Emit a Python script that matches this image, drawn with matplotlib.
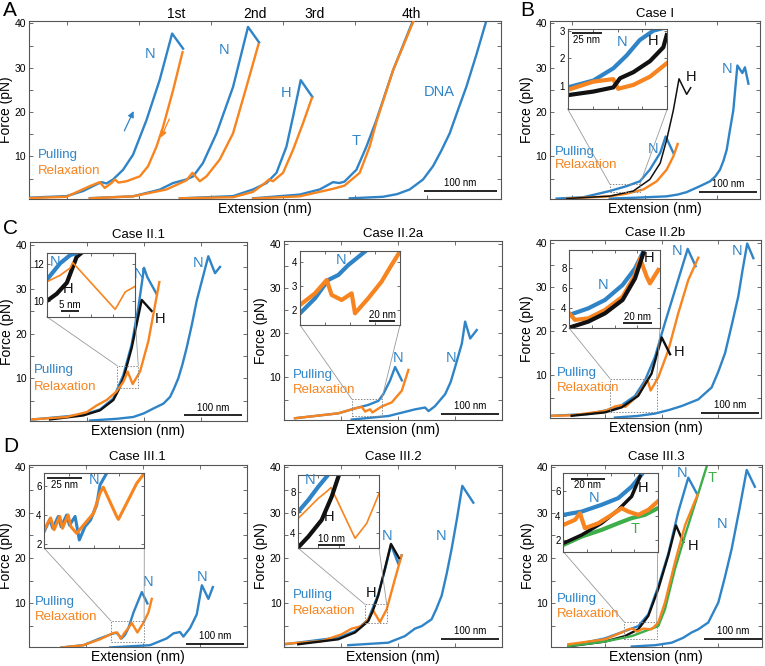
import matplotlib
matplotlib.use("Agg")
import matplotlib.pyplot as plt
from matplotlib.patches import Rectangle, ConnectionPatch

plt.rcParams['font.family'] = ['Liberation Sans', 'DejaVu Sans']

BLUE = '#2f84c7'
ORANGE = '#f7841e'
GREEN = '#3dae49'
BLACK = '#111111'

# ---------------- data (x in nm, y in pN) ----------------
# Panel A
A_pull1_x = [-52, 0, 23, 41.5, 48.5, 55.4, 64.5, 78.4, 92.2, 110.8, 129, 146.3, 161.5]
A_pull1_y = [0.7, 1.05, 2.2, 3.7, 4.2, 3.9, 4.8, 7.0, 10.4, 18.2, 27.2, 37.7, 34.3]
A_relax1_x = [-52, 0, 32.3, 46, 53, 62.3, 67, 72, 83, 101.5, 113, 124.6, 133.8, 147.6, 160.7]
A_relax1_y = [0.6, 0.9, 3.3, 4.2, 2.9, 4.0, 4.8, 4.1, 4.4, 5.5, 7.8, 12.2, 16.7, 24.9, 33.5]
A_pull2_x = [32.3, 92, 129, 147.6, 166, 175.4, 189, 207.8, 230.8, 251.5, 266.8]
A_pull2_y = [0.6, 1.0, 2.5, 4.0, 4.8, 5.5, 8.5, 15.2, 25.7, 39.2, 35.7]
A_relax2_x = [32.3, 92, 138.5, 166, 174.5, 184.6, 193.9, 212.3, 230.7, 249.3, 266]
A_relax2_y = [0.55, 1.0, 2.55, 4.6, 6.3, 4.4, 5.5, 9.3, 15.2, 25.7, 35.3]
A_pull3_x = [157, 230.8, 258.4, 277, 290.9, 304.7, 313.9, 324.5, 340.7]
A_pull3_y = [0.55, 1.05, 2.55, 4.0, 6.3, 12.2, 19, 27.2, 23.4]
A_relax3_x = [157, 230.8, 258.4, 275, 280.6, 286, 300, 313.9, 327.7, 340]
A_relax3_y = [0.55, 0.8, 2.0, 4.0, 4.8, 4.4, 6.3, 11.5, 17.5, 23.2]
A_pull4_x = [258.5, 323, 350.8, 369.3, 378, 385, 401.7, 415.5, 429.4, 452.4, 480]
A_pull4_y = [0.55, 1.4, 2.55, 4.2, 4.0, 4.3, 7.0, 12.2, 18.2, 29.4, 40.6]
A_relax4_x = [258.5, 323, 369.3, 385, 406.2, 420, 429.4, 452.4, 481]
A_relax4_y = [0.5, 1.0, 2.7, 3.4, 6.3, 12.2, 17.8, 29.4, 40.6]
A_dna_x = [392.4, 438.5, 458, 475.5, 494, 507.8, 519, 530.9, 542, 554, 568, 581.7]
A_dna_y = [0.55, 0.9, 1.5, 2.55, 4.8, 7.8, 11.2, 15.2, 20.3, 25.7, 33, 40.6]
A_cycle_labels = ['1st', '2nd', '3rd', '4th']
A_cycle_x = [152.4, 260.8, 343.9, 477.8]

# Panel B (Case I)
B_pull1_x = [11.5, 57.5, 103, 132, 155, 172, 190, 199.4, 212.6]
B_pull1_y = [0.5, 0.8, 2.2, 3.3, 4.4, 7.0, 10.8, 14.5, 10.8]
B_relax_x = [28.8, 103, 132, 161, 184, 201, 212.6, 220.1]
B_relax_y = [0.5, 1.0, 1.6, 2.55, 4.4, 7.0, 10.0, 12.8]
B_H_x = [28.8, 103, 143.6, 172, 190, 201, 212.6, 222.4, 235.6, 242.5]
B_H_y = [0.5, 1.05, 2.2, 4.8, 8.5, 13.7, 20.4, 27.5, 24, 25.5]
B_pull2_x = [103, 150, 201, 220, 235.6, 258.6, 276, 285, 293, 299, 304.6, 310, 316, 323, 331.6, 336, 342]
B_pull2_y = [0.5, 0.7, 1.0, 1.4, 1.95, 3.3, 4.4, 5.5, 7.0, 9.0, 11.5, 15.8, 20.4, 30.5, 28.8, 30.1, 26.4]
B_in_blue_x = [0, 21.4, 38, 49, 60, 71.4, 80]
B_in_blue_y = [0.95, 1.2, 1.64, 2.1, 2.66, 3.0, 3.1]
B_in_orange_x = [0, 21.4, 38, 42, 54.7, 68.6, 82.5]
B_in_orange_y = [0.86, 1.16, 1.25, 0.9, 1.04, 1.34, 1.82]
B_in_black_x = [0, 21.4, 38, 43.6, 54.7, 68.6, 79.7, 82.5]
B_in_black_y = [0.67, 0.8, 0.95, 1.28, 1.5, 1.9, 2.4, 2.84]

# Panel C1 (Case II.1)
C1_blue1_x = [5.7, 92, 120.7, 143.6, 161, 175.3, 186.8, 196.6, 202.3, 218.4]
C1_blue1_y = [0.75, 1.8, 3.0, 5.45, 10.75, 17.6, 25.9, 34.8, 32.7, 28.9]
C1_orange_x = [3, 63, 98, 115, 132, 149, 161, 168.4, 177, 189.7, 204, 223]
C1_orange_y = [0.75, 1.3, 2.4, 3.9, 5.1, 7.0, 9.2, 11.5, 8.7, 11.5, 18.3, 31.6]
C1_H_x = [34.5, 92, 120.7, 143.6, 152, 161, 175.3, 192.6, 209.8]
C1_H_y = [0.75, 1.65, 2.8, 5.1, 7.2, 10, 16.8, 27.6, 25.1]
C1_blue2_x = [103.4, 150, 178, 196, 212.6, 230, 241.4, 248, 255.7, 263, 270, 279, 287.4, 307.4, 319, 327.6]
C1_blue2_y = [0.5, 0.9, 1.3, 2.1, 3.2, 4.3, 5.8, 7.6, 10, 13.2, 16.8, 22, 27.4, 37.4, 33.6, 35]
C1_in_black_x = [0, 2.8, 5.6, 8.3, 9.5]
C1_in_black_y = [10.0, 10.4, 11.0, 12.4, 12.6]
C1_in_blue_x = [0, 3.7, 6.5, 8]
C1_in_blue_y = [11.15, 12.05, 12.5, 12.6]
C1_in_orange_x = [0, 3.7, 6.5, 7.2, 19, 21.8, 24.5]
C1_in_orange_y = [11.05, 11.4, 11.8, 12.1, 9.55, 10.5, 10.8]

# Panel C2 (Case II.2a)
C2_blue1_x = [19, 93.7, 122.4, 145.4, 162.6, 171, 182.8, 191.4, 203]
C2_blue1_y = [0.8, 1.9, 3.0, 3.8, 4.7, 6.2, 9.3, 12.3, 9.3]
C2_orange_x = [19, 93.7, 122.4, 134, 139.7, 148.3, 152.3, 168.4, 185.6, 203, 214.3]
C2_orange_y = [0.8, 1.9, 3.0, 3.35, 2.3, 2.8, 2.1, 3.45, 4.35, 7.0, 11.65]
C2_blue2_x = [116.7, 180, 226, 243, 249, 260, 277.6, 287, 294.8, 306.4, 312, 320.7, 332]
C2_blue2_y = [0.5, 1.3, 2.8, 3.2, 2.4, 3.5, 6.2, 8.9, 12.3, 17.6, 22.5, 18.7, 20.6]
C2_in_blue_x = [0, 11.7, 22, 29.9, 37.7, 50.6]
C2_in_blue_y = [1.86, 2.49, 3.26, 3.47, 3.89, 4.45]
C2_in_orange_x = [0, 11.7, 20.8, 24.7, 32.5, 40.3, 42.9, 53.2, 63.6, 71.4, 77.9]
C2_in_orange_y = [2.21, 2.7, 3.26, 2.63, 2.42, 2.7, 1.86, 2.49, 3.19, 3.89, 4.45]

# Panel C3 (Case II.2b)
C3_blue1_x = [3, 66, 106, 123.6, 146.6, 163.8, 181, 198, 221, 237.4, 251]
C3_blue1_y = [0.9, 1.3, 2.4, 3.3, 5.4, 8.9, 14.2, 21.8, 31.6, 38.6, 34.7]
C3_orange_x = [3, 37.4, 94.8, 112, 123.6, 130, 152, 167.8, 173.6, 186.8, 204, 221, 238.5, 255.7]
C3_orange_y = [0.9, 1.0, 2.0, 3.0, 3.3, 2.9, 5.6, 9.1, 6.6, 9.6, 15.7, 24, 31.6, 36.6]
C3_H_x = [37.4, 94.8, 123.6, 152, 175, 192.6, 207]
C3_H_y = [0.9, 1.66, 2.8, 5.4, 10.4, 18.6, 14.8]
C3_blue2_x = [112, 150, 181, 205, 227, 255.7, 278.7, 290, 301.7, 313, 324.7, 332, 340, 350.6]
C3_blue2_y = [0.5, 0.85, 1.4, 2.2, 3.1, 4.6, 7.3, 10.8, 15, 21.2, 27.9, 33.8, 39.8, 36.5]
C3_in_blue_x = [0, 13.4, 25.2, 37.6, 46.4, 52.2]
C3_in_blue_y = [3.27, 3.93, 4.77, 6.27, 7.93, 9.6]
C3_in_orange_x = [0, 4, 13.4, 25.2, 37.6, 46.4, 49.9, 54.6, 56.9, 62.8]
C3_in_orange_y = [3.43, 2.77, 2.93, 3.77, 5.1, 7.27, 8.93, 7.1, 6.43, 7.77]
C3_in_black_x = [0, 13.4, 25.2, 37.6, 46.4, 52.2]
C3_in_black_y = [2.0, 2.6, 3.43, 4.77, 6.93, 9.43]

# Panel D1 (Case III.1)
D1_blue1_x = [56.3, 93.7, 122.4, 145.4, 151, 159.8, 165.5, 171.3, 180, 194.3, 204]
D1_blue1_y = [0.3, 0.8, 2.3, 3.4, 3.5, 2.3, 3.1, 4.6, 8.0, 12.5, 10]
D1_orange_x = [56.3, 93.7, 122.4, 145.4, 152, 158, 163.8, 171.3, 177, 186.7, 197, 205.7, 211.5]
D1_orange_y = [0.3, 0.8, 2.1, 3.5, 3.6, 2.2, 3.4, 4.6, 5.7, 3.6, 5.7, 8.0, 11]
D1_blue2_x = [139.7, 208.6, 237.4, 248.8, 260, 266, 277.6, 289, 297.8, 309, 316.7]
D1_blue2_y = [0.3, 0.8, 2.3, 3.4, 3.7, 2.7, 4.6, 7.6, 14, 11, 13.6]
D1_in_blue_x = [0, 4, 6, 10, 12, 16, 18, 22, 25, 29, 33, 37.4, 39.8, 44.5]
D1_in_blue_y = [2.9, 3.7, 3.1, 3.9, 3.2, 4.0, 3.3, 3.9, 2.3, 3.2, 3.66, 4.68, 6.05, 6.84]
D1_in_orange_x = [0, 4.5, 7, 11, 13, 17, 19, 23.1, 27.9, 35, 39.8, 42.1, 51.7, 52.9, 58.8, 66, 71.4]
D1_in_orange_y = [3.0, 3.8, 3.0, 3.9, 3.1, 4.0, 3.2, 2.75, 3.3, 4.1, 5.5, 5.9, 3.9, 3.7, 4.8, 6.16, 6.84]

# Panel D2 (Case III.2)
D2_blue1_x = [1.2, 93.6, 122.4, 144.8, 162, 174.8, 184, 196.7, 202.4]
D2_blue1_y = [1.0, 2.5, 3.9, 6.5, 12, 18, 22.9, 18.7, 20.6]
D2_orange_x = [1.2, 64.5, 99, 116.2, 133.4, 144.8, 153.4, 165, 176.6, 190.9, 202.4]
D2_orange_y = [1.1, 1.7, 3.2, 4.45, 5.0, 6.5, 8.4, 5.9, 8.7, 15.4, 20.6]
D2_H_x = [24, 93, 121.9, 144.8, 153, 162, 173.4, 184, 197.8]
D2_H_y = [1.0, 2.1, 3.6, 6.1, 8.5, 11.7, 17.6, 23.1, 20]
D2_blue2_x = [110.3, 179.3, 208, 225.3, 237, 254, 262, 271.4, 280, 288.6, 298, 307, 326]
D2_blue2_y = [0.8, 1.35, 2.8, 4.45, 5.0, 6.5, 8.7, 11.7, 16.5, 22, 28.8, 35.9, 32.2]
D2_in_blue_x = [0, 3.75, 7.5, 10.6]
D2_in_blue_y = [6.08, 7.2, 8.48, 9.44]
D2_in_orange_x = [0, 3.75, 7.5, 10.6, 12.25, 21.25, 25.6, 30.25]
D2_in_orange_y = [5.44, 6.4, 7.36, 8.0, 8.4, 3.52, 4.96, 7.84]
D2_in_black_x = [0, 3.75, 8.75, 12.5, 15]
D2_in_black_y = [2.66, 3.68, 5.28, 7.52, 9.44]

# Panel D3 (Case III.3)
D3_blue1_x = [30.3, 93.6, 128, 151, 168.3, 185.5, 202.8, 220, 237.2, 252.8]
D3_blue1_y = [0.6, 2.3, 3.9, 5.0, 7.6, 13.8, 21, 30.2, 37.7, 34]
D3_green_x = [30.3, 93.6, 139.7, 162.6, 185.5, 197, 214.3, 231.6, 251.7, 271.7]
D3_green_y = [0.6, 1.6, 2.8, 3.9, 5.0, 8.7, 17.6, 25, 33.1, 41.3]
D3_orange_x = [30.3, 93.6, 122.4, 133.8, 140.7, 148.3, 159.7, 174, 185.5, 197, 214.3, 231.6, 253.4]
D3_orange_y = [1.0, 2.1, 3.6, 4.3, 4.45, 3.8, 4.45, 4.3, 5.8, 10.2, 19.1, 27.2, 34]
D3_H_x = [34, 93.6, 128, 151, 168.3, 185.5, 202.8, 216, 228.6]
D3_H_y = [0.6, 1.6, 2.8, 4.3, 7.25, 13.2, 20.6, 27.2, 23.5]
D3_blue2_x = [139.7, 180, 208.6, 228, 243, 254.5, 271.7, 289, 300, 312, 325, 338, 352]
D3_blue2_y = [0.5, 0.8, 1.35, 2.4, 3.6, 4.3, 5.8, 10.2, 15.6, 22, 30.5, 39.4, 35.7]
D3_in_blue_x = [0, 10.7, 22.3, 32, 39.8, 45.6]
D3_in_blue_y = [4.07, 4.34, 4.9, 5.45, 6.4, 7.4]
D3_in_orange_x = [0, 6.8, 9.7, 12.6, 20.4, 28.2, 34, 37.9, 43.7, 49.5, 55]
D3_in_orange_y = [3.24, 3.66, 4.2, 2.97, 3.38, 4.07, 4.62, 4.34, 4.07, 4.48, 5.17]
D3_in_green_x = [0, 10.7, 22.3, 32, 39.8, 47.6, 55]
D3_in_green_y = [1.59, 2.28, 2.83, 3.38, 3.8, 4.07, 4.62]
D3_in_black_x = [0, 10.7, 22.3, 32, 39.8, 44.7]
D3_in_black_y = [1.72, 2.41, 3.38, 4.48, 5.59, 7.24]

# ---------------- figure ----------------
W, H = 765, 666
fig = plt.figure(figsize=(7.65, 6.66), dpi=100)

LAB_FS = 9.5   # Pulling / Relaxation
MARK_FS = 10.5  # N / H / T labels


def rect(l, r, t, b):
    return [l / W, 1 - b / H, (r - l) / W, (b - t) / H]


def style(ax, xticks, yticks, ylabels, fs=7.5, inset=False):
    for s in ax.spines.values():
        s.set_color('#555555')
        s.set_linewidth(0.8)
    ax.set_xticks(xticks)
    ax.set_xticklabels([])
    ax.set_yticks(yticks)
    ax.set_yticklabels(ylabels)
    ax.tick_params(direction='in', top=True, right=True, length=3 if not inset else 2.5,
                   width=0.6, color='#555555', labelsize=fs, pad=2)


def main_axes(pos, xlim, title=None, xticks=None):
    ax = fig.add_axes(pos)
    ax.set_xlim(*xlim)
    ax.set_ylim(0.4, 40.6)
    style(ax, xticks, [5, 10, 15, 20, 25, 30, 35, 40],
          ['', '10', '', '20', '', '30', '', '40'])
    wpx = pos[2] * W
    hpx = pos[3] * H
    ax.set_ylabel('Force (pN)', fontsize=10)
    ax.yaxis.set_label_coords(-16 / wpx, 0.5)
    ax.set_xlabel('Extension (nm)', fontsize=10)
    ax.xaxis.set_label_coords(0.5, -3 / hpx)
    if title:
        ax.set_title(title, fontsize=9.5, pad=3)
    return ax


def tr(ax, x, y, c, lw=1.7, z=2):
    ax.plot(x, y, color=c, lw=lw, zorder=z, solid_joinstyle='round')


def lab(ax, x, y, s, c, fs=MARK_FS, ha='center'):
    ax.text(x, y, s, color=c, fontsize=fs, ha=ha, va='center', zorder=6)


def legend(ax, x, y1, y2):
    ax.text(x, y1, 'Pulling', color=BLUE, fontsize=LAB_FS, ha='left', va='center')
    ax.text(x, y2, 'Relaxation', color=ORANGE, fontsize=LAB_FS, ha='left', va='center')


def scalebar(ax, x0, y, length=100, txt='100 nm', below=False, fs=7, dy=1.3):
    ax.plot([x0, x0 + length], [y, y], color='k', lw=1.2, zorder=6, solid_capstyle='butt')
    ty = y - dy if below else y + dy
    ax.text(x0 + length / 2, ty, txt, fontsize=fs, ha='center',
            va='top' if below else 'bottom', zorder=6)


def inset(pos, xlim, ylim, yticks, parent, box):
    ia = fig.add_axes(pos)
    ia.set_xlim(*xlim)
    ia.set_ylim(*ylim)
    w = xlim[1] - xlim[0]
    style(ia, [xlim[0] + w * f for f in (0.25, 0.5, 0.75)], yticks,
          [str(v) for v in yticks], fs=7, inset=True)
    ia.set_zorder(5)
    ia.patch.set_facecolor('white')
    x0, x1, y0, y1 = box
    parent.add_patch(Rectangle((x0, y0), x1 - x0, y1 - y0, fill=False, ls=(0, (1.5, 1.5)),
                               ec='#888888', lw=0.7, zorder=5))
    for (ax_f, px) in (((0, 0), x0), ((1, 0), x1)):
        cp = ConnectionPatch(xyA=ax_f, coordsA=ia.transAxes, xyB=(px, y1),
                             coordsB=parent.transData, color='#999999', lw=0.6)
        fig.add_artist(cp)
    return ia


# ----- Panel A -----
axA = main_axes(rect(29, 501, 20.7, 199), (-52, 602), xticks=[0, 100, 200, 300, 400, 500])
for x, y in ((A_pull1_x, A_pull1_y), (A_pull2_x, A_pull2_y), (A_pull3_x, A_pull3_y),
             (A_pull4_x, A_pull4_y), (A_dna_x, A_dna_y)):
    tr(axA, x, y, BLUE)
for x, y in ((A_relax1_x, A_relax1_y), (A_relax2_x, A_relax2_y), (A_relax3_x, A_relax3_y),
             (A_relax4_x, A_relax4_y)):
    tr(axA, x, y, ORANGE, z=3)
for s, x in zip(A_cycle_labels, A_cycle_x):
    axA.text(x, 42.0, s, fontsize=10, ha='center', va='center', clip_on=False)
lab(axA, 115.5, 33.1, 'N', BLUE)
lab(axA, 217.9, 33.9, 'N', BLUE)
lab(axA, 303.7, 24.3, 'H', BLUE)
lab(axA, 401.7, 13.4, 'T', BLUE)
lab(axA, 517, 24.5, 'DNA', BLUE)
legend(axA, -40, 10.4, 6.8)
axA.annotate('', xy=(94.6, 20.8), xytext=(78.4, 15.2),
             arrowprops=dict(arrowstyle='-|>', color=BLUE, lw=0.9, mutation_scale=9))
axA.annotate('', xy=(129.2, 13.7), xytext=(144, 19),
             arrowprops=dict(arrowstyle='-|>', color=ORANGE, lw=0.9, mutation_scale=9))
scalebar(axA, 496, 2.3, dy=0.6)

# ----- Panel B -----
axB = main_axes(rect(550, 760, 20.7, 199), (0, 362), 'Case I', xticks=[38.4, 162.9, 287.4])
tr(axB, B_pull1_x, B_pull1_y, BLUE)
tr(axB, B_pull2_x, B_pull2_y, BLUE)
tr(axB, B_relax_x, B_relax_y, ORANGE)
tr(axB, B_H_x, B_H_y, BLACK, lw=1.1)
lab(axB, 244, 27.8, 'H', BLACK)
lab(axB, 178, 11.7, 'N', BLUE)
lab(axB, 306, 29.8, 'N', BLUE)
legend(axB, 8, 11.1, 8.0)
scalebar(axB, 257, 1.95, dy=0.6)
iB = inset(rect(567.7, 667.3, 29.3, 109), (0, 83), (0.17, 3.05), [1, 2, 3], axB,
           (103.4, 155, 1.95, 3.7))
tr(iB, B_in_blue_x, B_in_blue_y, BLUE, lw=3)
tr(iB, B_in_orange_x, B_in_orange_y, ORANGE, lw=3)
tr(iB, B_in_black_x, B_in_black_y, BLACK, lw=3)
lab(iB, 45, 2.6, 'N', BLUE)
lab(iB, 71.4, 2.62, 'H', BLACK)
scalebar(iB, 3.3, 2.9, length=25, txt='25 nm', below=True, fs=7, dy=0.06)

# ----- Panel C1 -----
xt = [98, 196, 294]
axC1 = main_axes(rect(30, 246.7, 242, 421), (0, 373.6), 'Case II.1', xticks=xt)
tr(axC1, C1_blue1_x, C1_blue1_y, BLUE)
tr(axC1, C1_blue2_x, C1_blue2_y, BLUE)
tr(axC1, C1_H_x, C1_H_y, BLACK)
tr(axC1, C1_orange_x, C1_orange_y, ORANGE)
lab(axC1, 188.5, 33.5, 'N', BLUE)
lab(axC1, 290, 35.9, 'N', BLUE)
lab(axC1, 224, 23.2, 'H', BLACK)
legend(axC1, 7, 11.9, 8.0)
scalebar(axC1, 266, 1.65, dy=0.6)
iC1 = inset(rect(46.7, 135, 253.3, 316.7), (0, 24.5), (9.15, 12.6), [10, 12], axC1,
            (150.5, 186.7, 7.7, 12.8))
tr(iC1, C1_in_black_x, C1_in_black_y, BLACK, lw=3)
tr(iC1, C1_in_blue_x, C1_in_blue_y, BLUE, lw=3)
tr(iC1, C1_in_orange_x, C1_in_orange_y, ORANGE, lw=1.2)
lab(iC1, 2.3, 12.1, 'N', BLUE)
lab(iC1, 5.8, 10.65, 'H', BLACK)
scalebar(iC1, 4, 9.45, length=5, txt='5 nm', fs=7, dy=0.08)

# ----- Panel C2 -----
axC2 = main_axes(rect(284, 501.7, 241, 420), (0, 375), 'Case II.2a', xticks=xt)
tr(axC2, C2_blue1_x, C2_blue1_y, BLUE)
tr(axC2, C2_blue2_x, C2_blue2_y, BLUE)
tr(axC2, C2_orange_x, C2_orange_y, ORANGE)
lab(axC2, 196, 14.4, 'N', BLUE)
lab(axC2, 288, 14.4, 'N', BLUE)
legend(axC2, 15, 10.6, 7.2)
scalebar(axC2, 270, 1.85, dy=0.6)
iC2 = inset(rect(300, 400, 250.7, 325), (0, 78), (1.37, 4.49), [2, 3, 4], axC2,
            (116.7, 168.4, 1.3, 5.1))
tr(iC2, C2_in_blue_x, C2_in_blue_y, BLUE, lw=3)
tr(iC2, C2_in_orange_x, C2_in_orange_y, ORANGE, lw=3)
lab(iC2, 32, 4.1, 'N', BLUE)
scalebar(iC2, 54, 1.52, length=20, txt='20 nm', fs=7, dy=0.06)

# ----- Panel C3 -----
axC3 = main_axes(rect(550, 761, 240, 418), (0, 363.8), 'Case II.2b', xticks=[95, 192.6, 290])
tr(axC3, C3_blue1_x, C3_blue1_y, BLUE)
tr(axC3, C3_blue2_x, C3_blue2_y, BLUE)
tr(axC3, C3_orange_x, C3_orange_y, ORANGE)
tr(axC3, C3_H_x, C3_H_y, BLACK)
lab(axC3, 218.4, 38.1, 'N', BLUE)
lab(axC3, 323, 38.1, 'N', BLUE)
lab(axC3, 222.4, 15.3, 'H', BLACK)
legend(axC3, 11, 10.6, 7.2)
scalebar(axC3, 260, 1.5, dy=0.6)
iC3 = inset(rect(569.3, 660, 250, 328.3), (0, 64), (1.93, 9.77), [2, 4, 6, 8], axC3,
            (103.4, 184, 1.8, 9.3))
tr(iC3, C3_in_blue_x, C3_in_blue_y, BLUE, lw=3)
tr(iC3, C3_in_orange_x, C3_in_orange_y, ORANGE, lw=3)
tr(iC3, C3_in_black_x, C3_in_black_y, BLACK, lw=3)
lab(iC3, 24, 6.27, 'N', BLUE)
lab(iC3, 56.2, 8.93, 'H', BLACK)
scalebar(iC3, 38.1, 2.43, length=20, txt='20 nm', fs=7, dy=0.15)

# ----- Panel D1 -----
axD1 = main_axes(rect(29, 246.7, 464.5, 647), (0, 375), 'Case III.1', xticks=xt)
tr(axD1, D1_blue1_x, D1_blue1_y, BLUE)
tr(axD1, D1_blue2_x, D1_blue2_y, BLUE)
tr(axD1, D1_orange_x, D1_orange_y, ORANGE)
lab(axD1, 205.7, 14.8, 'N', BLUE)
lab(axD1, 297.8, 15.9, 'N', BLUE)
legend(axD1, 10, 10.4, 7.0)
scalebar(axD1, 270, 1.05, dy=0.6)
iD1 = inset(rect(44.3, 144.3, 473.3, 548.3), (0, 71.4), (1.73, 6.84), [2, 4, 6], axD1,
            (141.4, 198.3, 1.4, 6.1))
tr(iD1, D1_in_blue_x, D1_in_blue_y, BLUE, lw=2.2)
tr(iD1, D1_in_orange_x, D1_in_orange_y, ORANGE, lw=2.2)
lab(iD1, 35.7, 6.4, 'N', BLUE)
scalebar(iD1, 1.7, 6.5, length=25, txt='25 nm', below=True, fs=7, dy=0.1)

# ----- Panel D2 -----
axD2 = main_axes(rect(284.3, 502.3, 464.5, 647), (0, 376), 'Case III.2', xticks=xt)
tr(axD2, D2_blue1_x, D2_blue1_y, BLUE)
tr(axD2, D2_blue2_x, D2_blue2_y, BLUE)
tr(axD2, D2_orange_x, D2_orange_y, ORANGE)
tr(axD2, D2_H_x, D2_H_y, BLACK)
lab(axD2, 176.6, 24.9, 'N', BLUE)
lab(axD2, 269.7, 24.9, 'N', BLUE)
lab(axD2, 149, 12.4, 'H', BLACK)
legend(axD2, 15, 11.9, 8.4)
scalebar(axD2, 270, 2.2, dy=0.6)
iD2 = inset(rect(298.3, 379, 475, 548.3), (0, 30.2), (2.56, 9.6), [4, 6, 8], axD2,
            (139, 176.6, 5.6, 9.8))
tr(iD2, D2_in_blue_x, D2_in_blue_y, BLUE, lw=3)
tr(iD2, D2_in_orange_x, D2_in_orange_y, ORANGE, lw=1.2)
tr(iD2, D2_in_black_x, D2_in_black_y, BLACK, lw=3)
lab(iD2, 4.4, 9.1, 'N', BLUE)
lab(iD2, 11.5, 5.6, 'H', BLACK)
scalebar(iD2, 7.5, 2.9, length=10, txt='10 nm', fs=7, dy=0.12)

# ----- Panel D3 -----
axD3 = main_axes(rect(550.7, 761.7, 464.5, 647), (0, 363.8), 'Case III.3', xticks=[93.6, 191.4, 289])
tr(axD3, D3_blue1_x, D3_blue1_y, BLUE)
tr(axD3, D3_blue2_x, D3_blue2_y, BLUE)
tr(axD3, D3_H_x, D3_H_y, BLACK)
tr(axD3, D3_green_x, D3_green_y, GREEN)
tr(axD3, D3_orange_x, D3_orange_y, ORANGE)
lab(axD3, 225.9, 38.7, 'N', BLUE)
lab(axD3, 277.6, 37.6, 'T', GREEN)
lab(axD3, 294.8, 27.4, 'N', BLUE)
lab(axD3, 245.9, 22.6, 'H', BLACK)
legend(axD3, 10, 11.0, 7.6)
scalebar(axD3, 264, 2.2, dy=0.6)
iD3 = inset(rect(563.3, 657.7, 473.3, 551.7), (0, 55), (1.03, 7.5), [2, 4, 6], axD3,
            (127, 182.8, 2.1, 5.9))
tr(iD3, D3_in_blue_x, D3_in_blue_y, BLUE, lw=3)
tr(iD3, D3_in_green_x, D3_in_green_y, GREEN, lw=3)
tr(iD3, D3_in_black_x, D3_in_black_y, BLACK, lw=2.5)
tr(iD3, D3_in_orange_x, D3_in_orange_y, ORANGE, lw=3)
lab(iD3, 18, 5.45, 'N', BLUE)
lab(iD3, 46.6, 6.28, 'H', BLACK)
lab(iD3, 41.7, 2.88, 'T', GREEN)
scalebar(iD3, 4.3, 7.05, length=20, txt='20 nm', below=True, fs=7, dy=0.12)

# panel letters
for s, (px, py) in zip('ABCD', [(3, 1), (520, 1), (3, 219), (3, 437)]):
    fig.text(px / W, 1 - py / H, s, fontsize=15, ha='left', va='top')

fig.savefig('out.png', dpi=100)
